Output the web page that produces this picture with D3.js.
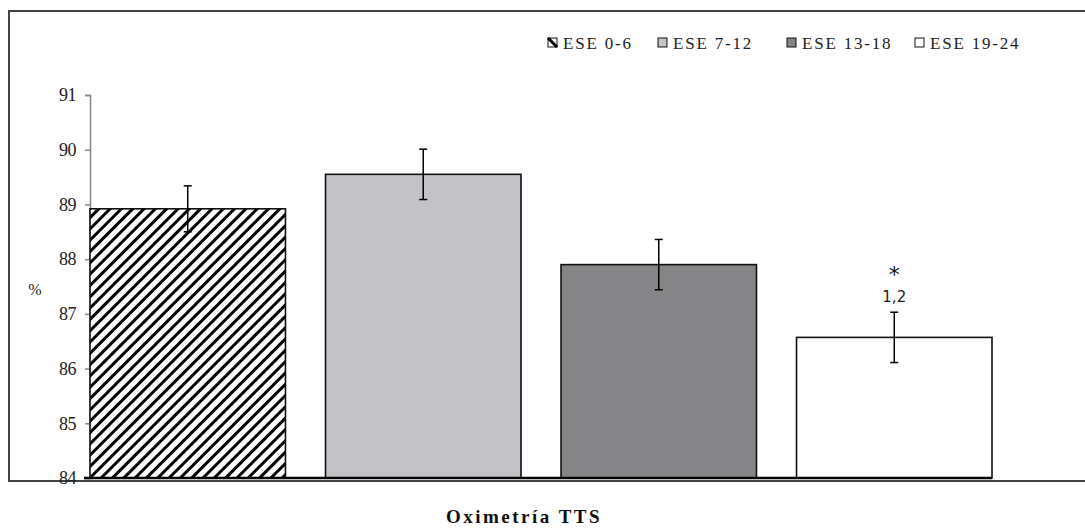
<!DOCTYPE html>
<html>
<head>
<meta charset="utf-8">
<script src="https://cdn.jsdelivr.net/npm/d3@7"></script>
<style>
  body { margin: 0; background: #fff; }
  svg { display: block; }
</style>
</head>
<body>
<div id="chart"></div>
<script>
// data
const groups = ['ESE 0-6', 'ESE 7-12', 'ESE 13-18', 'ESE 19-24'];
const means = [88.92, 89.55, 87.9, 86.57];
const errors = [0.42, 0.46, 0.46, 0.46];
const fills = ['url(#hatch)', '#c3c2c7', '#858487', '#ffffff'];
const yTicks = [84, 85, 86, 87, 88, 89, 90, 91];
const xTitle = 'Oximetría TTS';

const width = 1085, height = 531;
const serif = '"Liberation Serif", "DejaVu Serif", serif';

const svg = d3.select('#chart')
  .append('svg')
  .attr('width', width)
  .attr('height', height);

// diagonal hatch for the first group
const defs = svg.append('defs');
const pat = defs.append('pattern')
  .attr('id', 'hatch')
  .attr('patternUnits', 'userSpaceOnUse')
  .attr('width', 8)
  .attr('height', 8)
  .attr('patternTransform', 'rotate(-45)');
pat.append('rect').attr('width', 8).attr('height', 8).attr('fill', '#fff');
pat.append('rect').attr('x', 0).attr('y', 0).attr('width', 8).attr('height', 3).attr('fill', '#000');

// outer frame (right side is cut off in the original)
svg.append('path')
  .attr('d', `M${width + 5},11 H9 V481 H${width + 5}`)
  .attr('fill', 'none')
  .attr('stroke', '#444')
  .attr('stroke-width', 2);

const x = d3.scaleBand()
  .domain(groups)
  .range([90, 992])
  .paddingInner(0.17)
  .paddingOuter(0);

const y = d3.scaleLinear()
  .domain([84, 91])
  .range([478, 95]);

// y axis
const yAxis = svg.append('g')
  .attr('transform', 'translate(90,0)')
  .call(d3.axisLeft(y).tickValues(yTicks).tickSize(5).tickPadding(9).tickFormat(d3.format('d')));
yAxis.attr('font-family', serif).attr('font-size', 18);
yAxis.select('.domain').attr('stroke', '#888').attr('stroke-width', 1.5);
yAxis.selectAll('.tick line').attr('stroke', '#888').attr('stroke-width', 1.5);
yAxis.selectAll('.tick text')
  .attr('fill', '#222')
  .style('letter-spacing', '-0.5px');

svg.append('text')
  .attr('x', 35)
  .attr('y', 295)
  .attr('text-anchor', 'middle')
  .style('font-family', serif)
  .style('font-size', '16px')
  .attr('fill', '#222')
  .text('%');

// bars
svg.selectAll('.bar')
  .data(groups)
  .enter()
  .append('rect')
  .attr('class', 'bar')
  .attr('x', d => x(d))
  .attr('y', (d, i) => y(means[i]))
  .attr('width', x.bandwidth())
  .attr('height', (d, i) => y(84) - y(means[i]))
  .attr('fill', (d, i) => fills[i])
  .attr('stroke', '#111')
  .attr('stroke-width', 1.6);

// baseline
svg.append('line')
  .attr('x1', 84).attr('x2', x(groups[3]) + x.bandwidth())
  .attr('y1', y(84)).attr('y2', y(84))
  .attr('stroke', '#000')
  .attr('stroke-width', 2.5);

// error bars
const eb = svg.selectAll('.err')
  .data(groups)
  .enter()
  .append('g')
  .attr('class', 'err')
  .attr('transform', d => `translate(${x(d) + x.bandwidth() / 2},0)`);
eb.append('line')
  .attr('y1', (d, i) => y(means[i] + errors[i]))
  .attr('y2', (d, i) => y(means[i] - errors[i]))
  .attr('stroke', '#000').attr('stroke-width', 1.5);
eb.append('line')
  .attr('x1', -4).attr('x2', 4)
  .attr('y1', (d, i) => y(means[i] + errors[i]))
  .attr('y2', (d, i) => y(means[i] + errors[i]))
  .attr('stroke', '#000').attr('stroke-width', 1.5);
eb.append('line')
  .attr('x1', -4).attr('x2', 4)
  .attr('y1', (d, i) => y(means[i] - errors[i]))
  .attr('y2', (d, i) => y(means[i] - errors[i]))
  .attr('stroke', '#000').attr('stroke-width', 1.5);

// significance note on the last bar
const cx = x(groups[3]) + x.bandwidth() / 2;
svg.append('text')
  .attr('x', cx).attr('y', 282)
  .attr('text-anchor', 'middle')
  .style('font-family', '"DejaVu Sans", sans-serif')
  .style('font-size', '22px')
  .attr('fill', '#111')
  .text('*');
svg.append('text')
  .attr('x', cx).attr('y', 302)
  .attr('text-anchor', 'middle')
  .style('font-family', '"DejaVu Sans", sans-serif')
  .style('font-size', '15px')
  .attr('fill', '#222')
  .text('1,2');

// x title
svg.append('text')
  .attr('x', 524).attr('y', 523)
  .attr('text-anchor', 'middle')
  .style('font-family', serif)
  .style('font-weight', 'bold')
  .style('font-size', '19px')
  .style('letter-spacing', '2.5px')
  .attr('fill', '#111')
  .text(xTitle);

// legend
const legX = [548, 658, 787, 915];
const leg = svg.selectAll('.leg')
  .data(groups)
  .enter()
  .append('g')
  .attr('class', 'leg')
  .attr('transform', (d, i) => `translate(${legX[i]},38)`);
leg.append('rect')
  .attr('width', 9).attr('height', 9)
  .attr('fill', (d, i) => i === 0 ? '#fff' : fills[i])
  .attr('stroke', '#111').attr('stroke-width', 1);
leg.filter((d, i) => i === 0)
  .append('line')
  .attr('x1', 0).attr('y1', 0).attr('x2', 9).attr('y2', 9)
  .attr('stroke', '#000').attr('stroke-width', 3);
leg.append('text')
  .attr('x', 15).attr('y', 11)
  .style('font-family', serif)
  .style('font-size', '17px')
  .style('letter-spacing', '1.8px')
  .attr('fill', '#222')
  .text(d => d);
</script>
</body>
</html>
